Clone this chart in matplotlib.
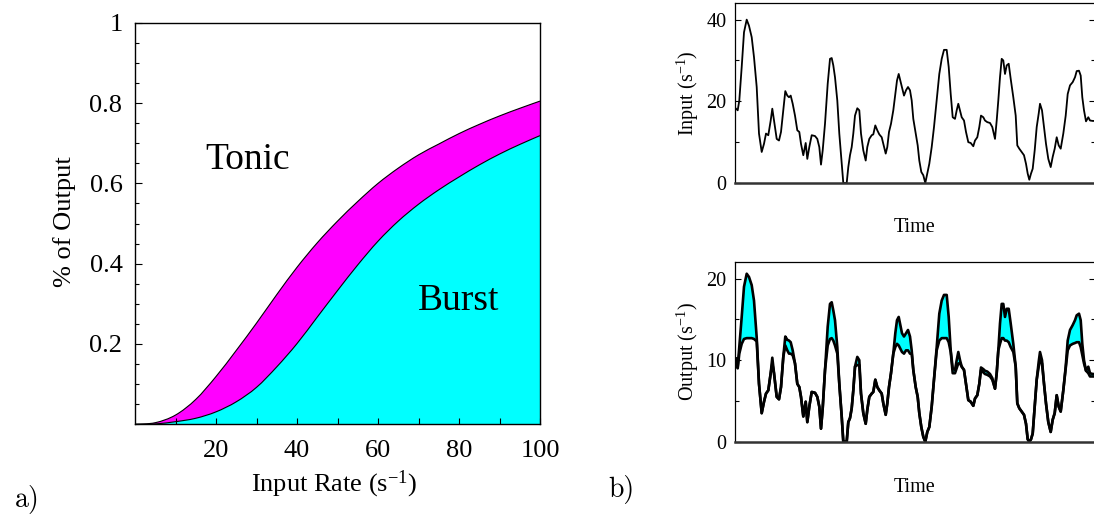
import matplotlib
matplotlib.use("Agg")
import matplotlib.pyplot as plt
from matplotlib.path import Path
from matplotlib.patches import PathPatch
from matplotlib.ticker import MultipleLocator, FixedLocator, NullLocator

plt.rcParams["font.family"] = "Liberation Serif"
plt.rcParams["mathtext.fontset"] = "custom"
plt.rcParams["mathtext.rm"] = "Liberation Serif"
plt.rcParams["mathtext.it"] = "Liberation Serif:italic"
plt.rcParams["mathtext.bf"] = "Liberation Serif:bold"

# ---- panel a: fraction of output vs input rate ----
rate = [0, 5, 10, 15, 20, 25, 30, 35, 40, 45, 50,
        55, 60, 65, 70, 75, 80, 85, 90, 95, 100]
burst_frac = [0.0, 0.001, 0.0065, 0.015, 0.031, 0.056, 0.092, 0.143, 0.201, 0.267, 0.333,
              0.397, 0.456, 0.506, 0.548, 0.584, 0.616, 0.646, 0.673, 0.697, 0.719]
upper_frac = [0.0, 0.004, 0.023, 0.062, 0.119, 0.184, 0.252, 0.323, 0.391, 0.452, 0.506,
              0.555, 0.600, 0.638, 0.671, 0.698, 0.724, 0.747, 0.768, 0.787, 0.805]
a_yticks = [0.2, 0.4, 0.6, 0.8, 1.0]
a_yticklabels = ["0.2", "0.4", "0.6", "0.8", "1"]
a_xticks = [20, 40, 60, 80, 100]

# ---- panel b: input and output time courses ----
time = [1.0, 2.7, 4.3, 6.7, 9.0, 11.7, 14.0, 16.7, 19.0, 21.7,
        24.0, 26.7, 29.0, 31.0, 33.3, 35.7, 37.3, 39.0, 41.7, 44.0,
        46.0, 48.3, 50.3, 52.3, 54.0, 55.7, 57.7, 60.0, 62.3, 64.3,
        66.0, 68.3, 70.7, 72.3, 74.3, 76.7, 80.0, 82.3, 84.3, 86.0,
        87.7, 90.0, 92.7, 95.0, 96.7, 98.3, 100.0, 102.3, 104.3, 106.7,
        108.3, 111.7, 113.3, 115.0, 116.7, 118.3, 120.0, 122.3, 124.3, 126.0,
        128.3, 130.7, 132.3, 134.3, 136.7, 138.3, 140.3, 142.3, 144.3, 146.7,
        148.3, 150.7, 152.3, 154.0, 156.0, 158.3, 160.3, 162.0, 163.7, 165.3,
        167.0, 169.0, 171.0, 173.0, 175.0, 176.7, 178.3, 180.7, 182.7, 184.3,
        186.3, 188.3, 190.3, 192.3, 194.3, 196.7, 199.0, 201.7, 204.3, 206.7,
        209.0, 211.7, 213.7, 215.7, 217.7, 220.0, 221.7, 223.3, 225.0, 226.7,
        229.0, 231.0, 233.3, 235.7, 238.3, 240.0, 242.3, 244.3, 246.0, 248.3,
        250.0, 252.3, 255.0, 257.3, 260.0, 261.7, 263.3, 265.0, 266.7, 268.3,
        270.0, 271.7, 273.7, 275.7, 278.3, 280.7, 282.3, 284.3, 286.7, 289.0,
        291.0, 292.7, 294.3, 296.0, 297.7, 299.7, 301.7, 303.7, 305.0, 307.0,
        309.0, 311.0, 313.3, 315.7, 317.7, 319.7, 321.7, 323.7, 325.7, 328.3,
        330.7, 332.7, 335.0, 337.7, 340.0, 341.7, 344.0, 345.7, 347.3, 349.0,
        351.0, 353.3, 355.0, 357.7, 359.0]

input_rate = [18.2, 17.8, 20.2, 28.4, 36.9, 40.0, 38.5, 35.7, 30.8, 23.5,
              12.1, 7.6, 9.6, 12.1, 11.7, 15.3, 18.2, 15.3, 10.8, 10.4,
              12.5, 17.8, 22.5, 21.4, 21.0, 21.4, 19.4, 16.5, 12.9, 12.5,
              9.6, 6.8, 9.8, 5.9, 8.8, 11.7, 11.5, 10.8, 8.8, 4.5,
              8.0, 14.5, 24.3, 30.4, 30.6, 28.8, 25.9, 20.2, 12.1, 4.7,
              0.0, 0.0, 3.9, 6.8, 8.8, 12.1, 16.5, 18.3, 17.8, 12.1,
              8.0, 5.5, 8.8, 10.8, 11.7, 11.9, 14.1, 12.9, 11.9, 11.2,
              9.6, 7.2, 8.8, 12.5, 14.5, 17.8, 21.8, 25.1, 26.7, 25.1,
              23.5, 21.4, 22.7, 23.5, 22.7, 20.2, 15.7, 12.1, 9.2, 5.5,
              2.7, 1.9, 0.0, 2.3, 4.7, 8.8, 13.7, 20.2, 26.7, 30.4,
              32.6, 32.6, 28.4, 21.8, 16.1, 15.7, 17.8, 19.4, 17.8, 16.1,
              15.3, 12.5, 10.0, 9.8, 9.0, 10.4, 11.2, 13.7, 16.5, 16.1,
              15.3, 14.9, 14.7, 13.7, 10.8, 15.3, 20.2, 25.9, 30.4, 30.0,
              26.7, 28.8, 29.2, 25.5, 21.0, 16.5, 9.2, 8.4, 7.6, 6.8,
              4.7, 2.3, 0.8, 2.3, 3.5, 8.0, 13.7, 17.0, 19.4, 17.8,
              13.7, 9.6, 5.9, 3.9, 6.4, 8.4, 11.2, 9.2, 8.4, 12.1,
              16.5, 21.8, 23.9, 24.7, 25.9, 27.4, 27.5, 26.3, 21.0, 17.8,
              15.1, 16.1, 15.3, 15.2, 15.2]

output_total = [10.2, 9.2, 11.6, 15.3, 19.0, 20.6, 20.2, 19.2, 17.3, 12.8,
                7.1, 3.5, 4.9, 5.9, 6.3, 8.4, 10.3, 8.4, 5.5, 5.2,
                6.7, 10.4, 12.9, 12.5, 12.4, 12.2, 11.2, 9.6, 7.1, 6.7,
                5.5, 3.1, 4.9, 2.4, 4.3, 6.1, 6.0, 5.5, 4.3, 1.6,
                4.1, 8.8, 14.1, 16.9, 17.1, 16.1, 14.9, 11.6, 7.1, 3.1,
                0.0, 0.0, 2.4, 2.9, 4.1, 6.3, 9.2, 10.4, 10.0, 5.9,
                3.5, 2.2, 3.9, 5.5, 5.9, 6.1, 7.6, 6.7, 6.3, 5.9,
                4.7, 3.3, 4.7, 6.7, 8.4, 10.8, 13.3, 14.9, 15.3, 14.3,
                13.3, 12.9, 13.3, 13.7, 12.9, 11.2, 8.8, 6.7, 5.5, 3.5,
                1.8, 0.6, 0.0, 1.2, 1.8, 4.3, 7.6, 11.6, 15.7, 17.3,
                18.0, 18.0, 15.3, 11.2, 9.0, 8.8, 10.0, 11.0, 10.0, 9.2,
                8.8, 7.1, 5.1, 4.9, 4.4, 5.3, 5.7, 7.1, 9.1, 8.9,
                8.7, 8.6, 8.3, 7.8, 6.5, 8.4, 11.2, 14.5, 16.9, 16.9,
                15.3, 16.3, 16.3, 14.5, 12.0, 9.2, 4.7, 4.1, 3.7, 3.3,
                2.2, 0.3, 0.0, 0.3, 1.0, 4.3, 7.6, 9.8, 11.0, 10.0,
                7.1, 4.7, 2.4, 1.2, 2.7, 3.5, 5.7, 4.3, 3.7, 6.3,
                9.2, 12.4, 13.7, 14.3, 14.9, 15.5, 15.7, 14.9, 12.0, 10.0,
                8.7, 9.2, 8.4, 8.3, 8.3]

output_tonic = [9.4, 9.0, 10.8, 12.0, 12.6, 12.7, 12.7, 12.7, 12.6, 12.3,
                7.1, 3.5, 4.9, 5.9, 6.3, 8.4, 9.6, 8.4, 5.5, 5.2,
                6.7, 10.4, 11.8, 11.2, 10.8, 10.8, 10.6, 9.6, 7.1, 6.7,
                5.5, 3.1, 4.9, 2.4, 4.3, 6.1, 6.0, 5.5, 4.3, 1.6,
                4.1, 8.8, 11.8, 12.6, 12.7, 12.4, 11.8, 10.8, 7.1, 3.1,
                0.0, 0.0, 2.4, 2.9, 4.1, 6.3, 9.2, 9.4, 9.4, 5.9,
                3.5, 2.2, 3.9, 5.5, 5.9, 6.1, 7.6, 6.7, 6.3, 5.9,
                4.7, 3.3, 4.7, 6.7, 8.4, 10.8, 11.6, 12.0, 11.8, 11.4,
                11.0, 10.8, 11.2, 11.2, 10.8, 10.8, 8.8, 6.7, 5.5, 3.5,
                1.8, 0.6, 0.0, 1.2, 1.8, 4.3, 7.6, 11.2, 12.4, 12.7,
                12.7, 12.7, 12.2, 11.0, 8.4, 8.4, 9.0, 9.6, 9.6, 9.2,
                8.8, 7.1, 5.1, 4.9, 4.4, 5.3, 5.7, 7.1, 8.8, 8.5,
                8.3, 8.2, 8.0, 7.6, 6.5, 8.4, 11.2, 12.0, 12.7, 12.7,
                12.4, 12.4, 12.2, 11.6, 11.0, 9.2, 4.7, 4.1, 3.7, 3.3,
                2.2, 0.3, 0.0, 0.3, 1.0, 4.3, 7.6, 9.2, 10.0, 9.6,
                7.1, 4.7, 2.4, 1.2, 2.7, 3.5, 5.7, 4.3, 3.7, 6.3,
                9.0, 11.2, 11.8, 12.0, 12.1, 12.2, 12.2, 11.6, 10.6, 9.6,
                8.7, 8.4, 8.0, 8.0, 8.0]

CYAN = "#00ffff"
MAGENTA = "#ff00ff"

W, H = 1094, 519
fig = plt.figure(figsize=(W / 100, H / 100), dpi=100)


def axes_px(left, top, right, bottom):
    return fig.add_axes([left / W, 1 - bottom / H, (right - left) / W, (bottom - top) / H])


def smooth_segments(xs, ys):
    """Catmull-Rom curve through the points, as cubic Bezier path pieces."""
    pts = list(zip(xs, ys))
    n = len(pts)
    verts, codes = [], []
    for i in range(n - 1):
        p0 = pts[max(i - 1, 0)]
        p1 = pts[i]
        p2 = pts[i + 1]
        p3 = pts[min(i + 2, n - 1)]
        c1 = (p1[0] + (p2[0] - p0[0]) / 6, p1[1] + (p2[1] - p0[1]) / 6)
        c2 = (p2[0] - (p3[0] - p1[0]) / 6, p2[1] - (p3[1] - p1[1]) / 6)
        verts += [c1, c2, p2]
        codes += [Path.CURVE4] * 3
    return verts, codes


def curve_path(xs, ys):
    v, c = smooth_segments(xs, ys)
    return Path([(xs[0], ys[0])] + v, [Path.MOVETO] + c)


# ---------------- panel a ----------------
axa = axes_px(135, 22.8, 540, 424.3)

# burst region: under the lower curve
v, c = smooth_segments(rate, burst_frac)
burst_path = Path([(rate[0], 0)] + [(rate[0], burst_frac[0])] + v +
                  [(rate[-1], 0), (rate[0], 0)],
                  [Path.MOVETO, Path.LINETO] + c + [Path.LINETO, Path.CLOSEPOLY])
axa.add_patch(PathPatch(burst_path, facecolor=CYAN, edgecolor="none", lw=0))

# band between lower and upper curves
vu, cu = smooth_segments(rate, upper_frac)
vb, cb = smooth_segments(rate[::-1], burst_frac[::-1])
band_path = Path([(rate[0], upper_frac[0])] + vu + [(rate[-1], burst_frac[-1])] + vb +
                 [(rate[0], upper_frac[0])],
                 [Path.MOVETO] + cu + [Path.LINETO] + cb + [Path.CLOSEPOLY])
axa.add_patch(PathPatch(band_path, facecolor=MAGENTA, edgecolor="none", lw=0))

axa.add_patch(PathPatch(curve_path(rate, burst_frac), fill=False, edgecolor="k", lw=0.8))
axa.add_patch(PathPatch(curve_path(rate, upper_frac), fill=False, edgecolor="k", lw=0.8))

axa.set_xlim(0, 100)
axa.set_ylim(0, 1)
axa.set_yticks(a_yticks)
axa.set_yticklabels(a_yticklabels)
axa.yaxis.set_minor_locator(MultipleLocator(0.05))
axa.set_xticks(a_xticks)
axa.xaxis.set_minor_locator(FixedLocator([10, 30, 50, 70, 90]))
axa.tick_params(which="both", direction="in", top=False, right=False,
                labelsize=19, width=0.8)
axa.tick_params(axis="y", which="major", length=5, pad=9)
axa.tick_params(axis="y", which="minor", length=3)
axa.tick_params(axis="x", which="both", length=4, pad=11)
for sp in axa.spines.values():
    sp.set_linewidth(1.0)
    sp.set_zorder(3)
axa.set_xlabel("Input Rate (s$^{-1}$)", fontsize=19)
axa.xaxis.set_label_coords(0.491, -0.149)
axa.xaxis.label.set_va("center")
axa.set_ylabel("% of Output", fontsize=19)
axa.yaxis.set_label_coords(-0.173, 0.504)
axa.yaxis.label.set_va("center")
axa.text(27.9, 0.658, "Tonic", fontsize=27, ha="center", va="center")
axa.text(79.8, 0.307, "Burst", fontsize=27, ha="center", va="center")

fig.text(27 / W, 1 - 499 / H, "a)", family="cmr10", fontsize=20,
         ha="center", va="center")
fig.text(621 / W, 1 - 489 / H, "b)", family="cmr10", fontsize=20,
         ha="center", va="center")


def style_trace_axes(ax, ymax, major, minor):
    ax.set_xlim(0, 360)
    ax.set_ylim(0, ymax)
    ax.xaxis.set_major_locator(NullLocator())
    ax.yaxis.set_major_locator(MultipleLocator(major))
    ax.yaxis.set_minor_locator(MultipleLocator(minor))
    ax.tick_params(which="both", direction="in", left=True, right=True,
                   labelsize=14.5, width=0.8)
    ax.tick_params(which="major", length=4, pad=6)
    ax.tick_params(which="minor", length=3)
    for name in ("left", "top", "right"):
        ax.spines[name].set_linewidth(0.9)
    ax.spines["bottom"].set_linewidth(1.8)
    ax.spines["bottom"].set_color("#333333")


# ---------------- panel b, input ----------------
axi = axes_px(735, 3.3, 1095, 183)
axi.plot(time, input_rate, color="k", lw=1.3)
style_trace_axes(axi, 44, 20, 10)
axi.set_ylabel("Input (s$^{-1}$)", fontsize=14.5)
axi.yaxis.set_label_coords(-0.131, 0.5)
axi.yaxis.label.set_va("center")
axi.set_xlabel("Time", fontsize=14.5)
axi.xaxis.set_label_coords(0.5, -0.25)
axi.xaxis.label.set_va("center")

# ---------------- panel b, output ----------------
axo = axes_px(735, 262.3, 1095, 441.7)
axo.fill_between(time, output_tonic, output_total, color=CYAN, lw=0)
axo.plot(time, output_total, color="k", lw=1.9)
axo.plot(time, output_tonic, color="k", lw=1.9)
style_trace_axes(axo, 22, 10, 5)
axo.set_ylabel("Output (s$^{-1}$)", fontsize=14.5)
axo.yaxis.set_label_coords(-0.131, 0.5)
axo.yaxis.label.set_va("center")
axo.set_xlabel("Time", fontsize=14.5)
axo.xaxis.set_label_coords(0.5, -0.258)
axo.xaxis.label.set_va("center")

fig.savefig("out.png", dpi=100)
